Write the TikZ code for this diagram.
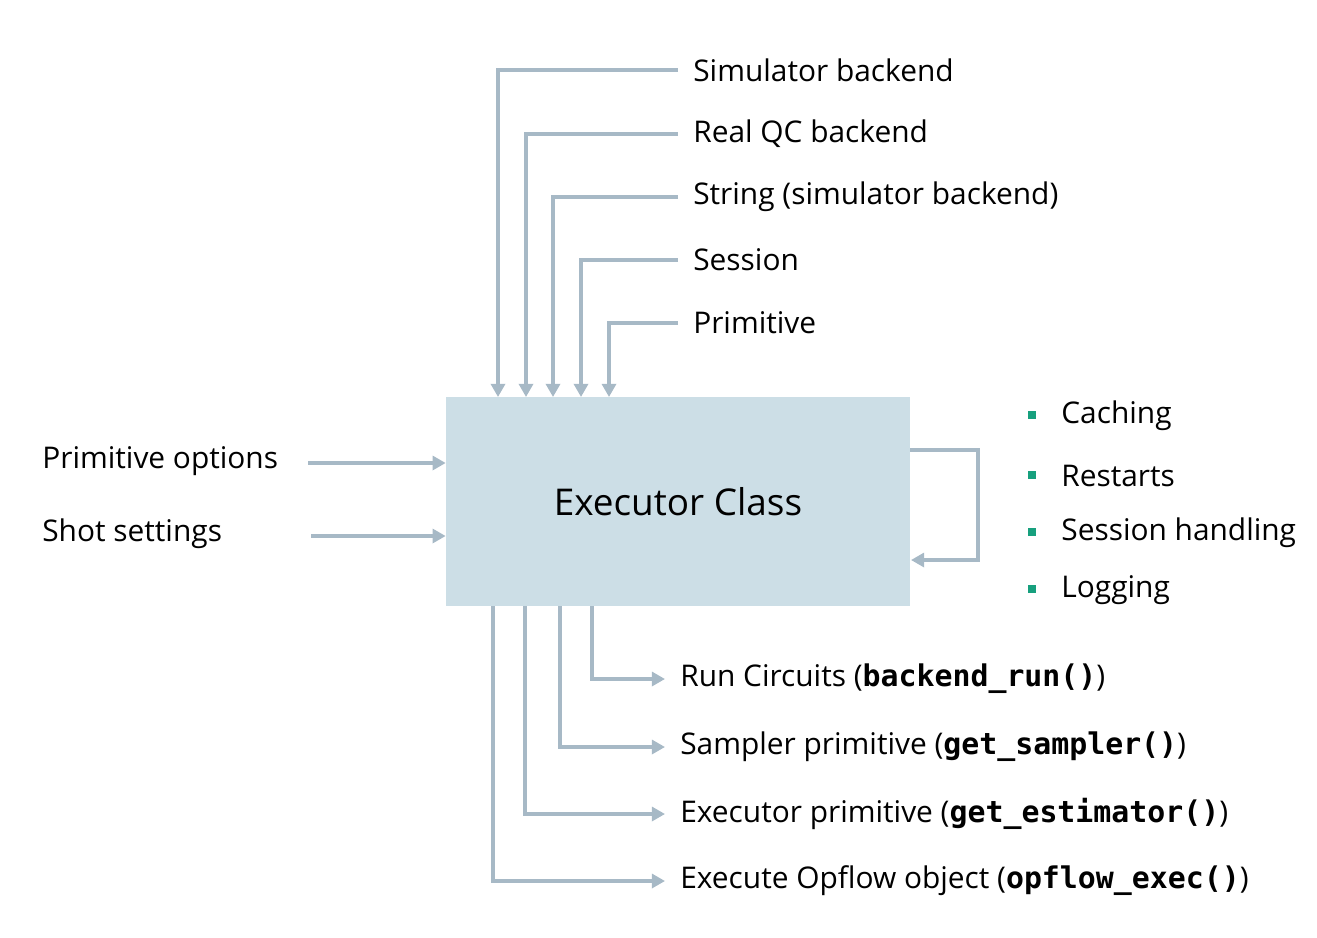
\documentclass[tikz,border=0pt]{standalone}
\usepackage{fontspec}
\setmainfont{Open Sans}
\setmonofont{DejaVu Sans Mono}
\usetikzlibrary{arrows.meta}
\definecolor{linegray}{HTML}{A7B9C6}
\definecolor{boxblue}{HTML}{CCDEE6}
\definecolor{bulletgreen}{HTML}{17A07E}
\newcommand{\code}[1]{{\ttfamily\bfseries #1}}

\begin{document}
\begin{tikzpicture}[x=0.02cm,y=-0.02cm,>={Triangle[length=7.5pt,width=8pt]},
	link/.style={draw=linegray,line width=1.8pt},
	label/.style={anchor=west,inner xsep=8.5pt,inner ysep=0pt},
	bullet/.style={fill=bulletgreen,inner sep=0pt,minimum size=4.6pt}]
	\tikzstyle{every node}=[font=\fontsize{17}{20}\selectfont]
	\useasboundingbox (0,0) rectangle (1317,937);

	% main block
	\draw
		(678,501.5) node(box) [fill=boxblue,minimum width=9.28cm,minimum height=4.18cm,font=\fontsize{21}{25}\selectfont] {Executor Class};

	% inputs from the top
	\draw
		(678,70)  node(sim) [label] {Simulator backend}
		(678,134) node(real) [label] {Real QC backend}
		(678,197) node(str) [label] {String (simulator backend)}
		(678,260) node(sess) [label] {Session}
		(678,323) node(prim) [label] {Primitive};
	\coordinate (in1) at (498,397);
	\coordinate (in2) at (526,397);
	\coordinate (in3) at (553,397);
	\coordinate (in4) at (581,397);
	\coordinate (in5) at (609,397);
	\draw [link,->] (sim.west) -| (in1);
	\draw [link,->] (real.west) -| (in2);
	\draw [link,->] (str.west) -| (in3);
	\draw [link,->] (sess.west) -| (in4);
	\draw [link,->] (prim.west) -| (in5);

	% inputs from the left
	\draw
		(42,461) node(popt) [anchor=west,inner sep=0pt] {Primitive options}
		(42,534) node(shot) [anchor=west,inner sep=0pt] {Shot settings};
	\coordinate (popt start) at (308,463);
	\coordinate (shot start) at (311,536);
	\draw [link,->] (popt start) -- (popt start -| box.west);
	\draw [link,->] (shot start) -- (shot start -| box.west);

	% internal loop
	\coordinate (loop out) at (910,450);
	\coordinate (loop in) at (911,560);
	\draw [link,->] (loop out) -- (978,450) |- (loop in);

	% features
	\foreach \yy/\txt [count=\i] in {415/Caching,475/Restarts,532/Session handling,589/Logging}{
		\node (dot\i) [bullet] at (1032,\yy) {};
		\node (feat\i) [anchor=west,inner sep=0pt] at (1061,\yy+1) {\txt};
	}

	% outputs
	\draw
		(665,679) node(run) [label] {Run Circuits (\code{backend\_run()})}
		(665,747) node(samp) [label] {Sampler primitive (\code{get\_sampler()})}
		(665,814) node(est) [label] {Executor primitive (\code{get\_estimator()})}
		(665,881) node(opf) [label] {Execute Opflow object (\code{opflow\_exec()})};
	\coordinate (out1) at (592,606);
	\coordinate (out2) at (560,606);
	\coordinate (out3) at (525,606);
	\coordinate (out4) at (493,606);
	\draw [link,->] (out1) |- (run.west);
	\draw [link,->] (out2) |- (samp.west);
	\draw [link,->] (out3) |- (est.west);
	\draw [link,->] (out4) |- (opf.west);
\end{tikzpicture}
\end{document}
